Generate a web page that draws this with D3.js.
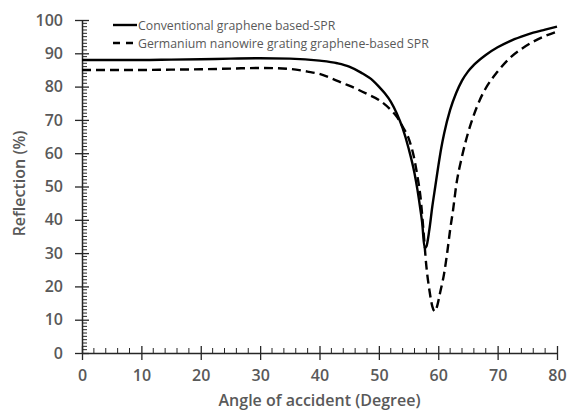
<!DOCTYPE html>
<html>
<head>
<meta charset="utf-8">
<script src="https://cdn.jsdelivr.net/npm/d3@7"></script>
<style>
  body { margin: 0; background: #fff; }
  text { font-family: "Open Sans", "Liberation Sans", sans-serif; }
</style>
</head>
<body>
<div id="chart"></div>
<script>
// angle values (degree) and reflection (%)
const convX = [0, 5, 10, 15, 20, 25, 30, 35, 40, 43, 45, 47, 49, 50, 51, 52, 53, 54, 55, 56, 56.5, 57, 57.3, 57.7, 58, 58.5, 59, 59.5, 60, 60.5, 61, 62, 63, 64, 65, 66, 68, 70, 72, 74, 76, 78, 80];
const convY = [88, 88, 88, 88.1, 88.2, 88.4, 88.5, 88.4, 87.8, 87, 86, 84.2, 81.8, 80, 78, 75.5, 72, 67.5, 61.5, 54, 49, 43, 39, 31.5, 32, 37, 44, 50, 56, 61.5, 66, 73, 78, 81.8, 84.5, 86.5, 89.5, 91.8, 93.6, 95, 96.2, 97.1, 98];

const geX = [0, 5, 10, 15, 20, 25, 30, 35, 38, 40, 42, 44, 46, 48, 50, 52, 53, 54, 55, 56, 56.5, 57, 57.5, 58, 58.5, 59, 59.4, 59.8, 60.3, 61, 61.5, 62, 62.5, 63, 64, 65, 66, 67, 68, 70, 72, 74, 76, 78, 80];
const geY = [85, 85, 85, 85.1, 85.2, 85.4, 85.6, 85.3, 84.5, 83.8, 82.5, 81, 79.5, 77.8, 76, 73, 71, 68, 64.5, 58, 53, 47, 37, 26, 19, 14, 12.5, 14, 18, 24, 30, 37, 43, 50, 59, 66, 71.5, 76, 79.5, 84.5, 88.5, 91.3, 93.5, 95.2, 96.5];

const seriesNames = ["Conventional graphene based-SPR", "Germanium nanowire grating graphene-based SPR"];
const xTicks = [0, 10, 20, 30, 40, 50, 60, 70, 80];
const yTicks = [0, 10, 20, 30, 40, 50, 60, 70, 80, 90, 100];

const width = 568;
const height = 412;
const margin = { left: 82, right: 11, top: 20, bottom: 59 };

const svg = d3.select("#chart")
    .append("svg")
    .attr("width", width)
    .attr("height", height);

const x = d3.scaleLinear().domain([0, 80]).range([margin.left, width - margin.right]);
const y = d3.scaleLinear().domain([0, 100]).range([height - margin.bottom, margin.top]);

const axisColor = "#262626";
const labelColor = "#595959";

// minor ticks
svg.append("g")
    .selectAll("line")
    .data(d3.range(0, 81, 2).filter(d => d % 10 !== 0))
    .enter().append("line")
    .attr("x1", d => x(d)).attr("x2", d => x(d))
    .attr("y1", y(0)).attr("y2", y(0) - 5)
    .style("stroke", axisColor).style("stroke-width", 1);

svg.append("g")
    .selectAll("line")
    .data(d3.range(0, 101, 1).filter(d => d % 10 !== 0))
    .enter().append("line")
    .attr("x1", x(0)).attr("x2", x(0) + 5)
    .attr("y1", d => y(d)).attr("y2", d => y(d))
    .style("stroke", axisColor).style("stroke-width", 1);

// major ticks crossing the axes
const xAxis = svg.append("g")
    .attr("transform", `translate(0,${y(0)})`)
    .call(d3.axisBottom(x).tickValues(xTicks).tickSizeInner(7).tickSizeOuter(0).tickPadding(10));
xAxis.selectAll(".tick line").attr("y1", -7);

const yAxis = svg.append("g")
    .attr("transform", `translate(${x(0)},0)`)
    .call(d3.axisLeft(y).tickValues(yTicks).tickSizeInner(7).tickSizeOuter(0).tickPadding(12));
yAxis.selectAll(".tick line").attr("x1", 7);

svg.selectAll(".domain").style("stroke", axisColor).style("stroke-width", 1.5);
svg.selectAll(".tick line").style("stroke", axisColor).style("stroke-width", 1.3);
svg.selectAll(".tick text")
    .style("font-size", "16px")
    .style("font-weight", "600")
    .style("fill", labelColor);

// axis titles
svg.append("text")
    .attr("x", (x(0) + x(80)) / 2)
    .attr("y", 406)
    .attr("text-anchor", "middle")
    .style("font-size", "16px")
    .style("font-weight", "600")
    .style("fill", labelColor)
    .text("Angle of accident (Degree)");

svg.append("text")
    .attr("transform", `translate(25,${(y(0) + y(100)) / 2 - 3}) rotate(-90)`)
    .attr("text-anchor", "middle")
    .style("font-size", "16px")
    .style("font-weight", "600")
    .style("fill", labelColor)
    .text("Reflection (%)");

// curves
const line = d3.line()
    .x(d => x(d[0]))
    .y(d => y(d[1]))
    .curve(d3.curveMonotoneX);

svg.append("path")
    .datum(d3.zip(convX, convY))
    .attr("d", line)
    .style("fill", "none")
    .style("stroke", "#000")
    .style("stroke-width", 2.4);

svg.append("path")
    .datum(d3.zip(geX, geY))
    .attr("d", line)
    .style("fill", "none")
    .style("stroke", "#000")
    .style("stroke-width", 2.4)
    .style("stroke-dasharray", "9,5");

// legend
const legend = svg.append("g");
seriesNames.forEach((name, i) => {
    const ly = 25 + i * 18;
    legend.append("line")
        .attr("x1", 113).attr("x2", 137)
        .attr("y1", ly).attr("y2", ly)
        .style("stroke", "#000")
        .style("stroke-width", 2.4)
        .style("stroke-dasharray", i === 0 ? null : "7,6");
    legend.append("text")
        .attr("x", 138)
        .attr("y", ly + 4.5)
        .style("font-size", "12.3px")
        .style("fill", labelColor)
        .text(name);
});
</script>
</body>
</html>
